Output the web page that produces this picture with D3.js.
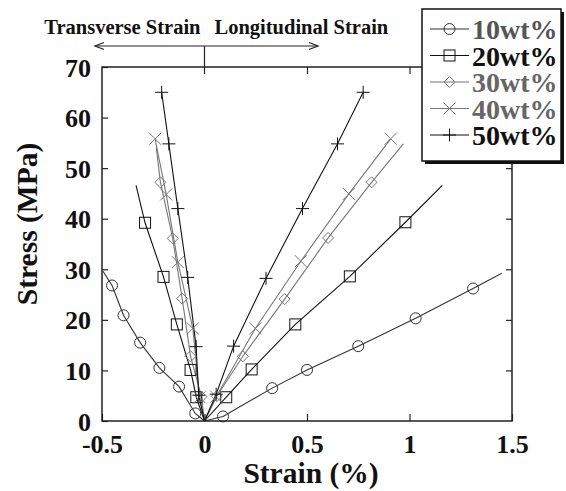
<!DOCTYPE html>
<html>
<head>
<meta charset="utf-8">
<script src="https://cdn.jsdelivr.net/npm/d3@7"></script>
<style>
  body { margin: 0; background: #fff; }
  svg { display: block; }
  text { font-family: "Liberation Serif", "Times New Roman", serif; font-weight: bold; }
</style>
</head>
<body>
<svg id="chart" width="566" height="491"></svg>
<script>
// ---- data: strain (%) vs stress (MPa) ----
const seriesNames = ["10wt%", "20wt%", "30wt%", "40wt%", "50wt%"];
const xTicks = [-0.5, 0, 0.5, 1, 1.5];
const yTicks = [0, 10, 20, 30, 40, 50, 60, 70];

// longitudinal (positive strain) curves
const long10 = [[0,0],[0.09,0.9],[0.33,6.5],[0.5,10.1],[0.75,14.8],[1.03,20.3],[1.31,26.2],[1.45,29.2]];
const long20 = [[0,0],[0.106,4.7],[0.23,10.2],[0.443,19.1],[0.709,28.6],[0.98,39.3],[1.16,46.6]];
const long30 = [[0,0],[0.06,4.9],[0.187,12.8],[0.391,24.1],[0.603,36.2],[0.815,47.2],[0.97,54.8]];
const long40 = [[0,0],[0.057,4.8],[0.248,18.3],[0.47,31.6],[0.704,44.9],[0.908,55.8]];
const long50 = [[0,0],[0.057,5.3],[0.142,14.8],[0.30,28.2],[0.478,42.0],[0.649,54.8],[0.774,65.0]];

// transverse (negative strain) curves
const trans10 = [[0,0],[-0.045,1.5],[-0.124,6.8],[-0.22,10.5],[-0.314,15.5],[-0.395,20.9],[-0.451,26.8],[-0.495,29.6]];
const trans20 = [[0,0],[-0.04,4.7],[-0.068,10.1],[-0.135,19.1],[-0.20,28.5],[-0.29,39.2],[-0.334,46.6]];
const trans30 = [[0,0],[-0.015,4.8],[-0.068,12.8],[-0.109,24.2],[-0.155,36.1],[-0.215,47.2],[-0.235,54.0]];
const trans40 = [[0,0],[-0.024,4.7],[-0.057,18.3],[-0.13,31.4],[-0.187,44.8],[-0.241,55.8]];
const trans50 = [[0,0],[-0.028,5.1],[-0.041,14.7],[-0.082,28.4],[-0.13,42.0],[-0.174,54.8],[-0.209,65.0]];

// marked measurement points
const marks10 = [[0.09,0.9],[0.33,6.5],[0.5,10.1],[0.75,14.8],[1.03,20.3],[1.31,26.2],
                 [-0.045,1.5],[-0.124,6.8],[-0.22,10.5],[-0.314,15.5],[-0.395,20.9],[-0.451,26.8]];
const marks20 = [[0.106,4.7],[0.23,10.2],[0.443,19.1],[0.709,28.6],[0.98,39.3],
                 [-0.04,4.7],[-0.068,10.1],[-0.135,19.1],[-0.20,28.5],[-0.29,39.2]];
const marks30 = [[0.06,4.9],[0.187,12.8],[0.391,24.1],[0.603,36.2],[0.815,47.2],
                 [-0.015,4.8],[-0.068,12.8],[-0.109,24.2],[-0.155,36.1],[-0.215,47.2]];
const marks40 = [[0.057,4.8],[0.248,18.3],[0.47,31.6],[0.704,44.9],[0.908,55.8],
                 [-0.024,4.7],[-0.057,18.3],[-0.13,31.4],[-0.187,44.8],[-0.241,55.8]];
const marks50 = [[0.057,5.3],[0.142,14.8],[0.30,28.2],[0.478,42.0],[0.649,54.8],[0.774,65.0],
                 [-0.028,5.1],[-0.041,14.7],[-0.082,28.4],[-0.13,42.0],[-0.174,54.8],[-0.209,65.0]];

const lineColors = ["#333", "#111", "#777", "#777", "#111"];
const textColors = ["#555", "#111", "#666", "#666", "#111"];
const symbols = ["circle", "square", "diamond", "cross", "plus"];

const series = seriesNames.map((name, i) => ({
  name,
  curves: [[long10, trans10], [long20, trans20], [long30, trans30], [long40, trans40], [long50, trans50]][i],
  marks: [marks10, marks20, marks30, marks40, marks50][i],
  color: lineColors[i],
  textColor: textColors[i],
  symbol: symbols[i]
}));

// ---- layout ----
const svg = d3.select("#chart");
const plot = { left: 102, right: 512, top: 67, bottom: 421 };

const x = d3.scaleLinear().domain([-0.5, 1.5]).range([plot.left, plot.right]);
const y = d3.scaleLinear().domain([0, 70]).range([plot.bottom, plot.top]);

// marker drawing
function drawSymbol(g, type, cx, cy, color) {
  const s = g.append("g").attr("transform", `translate(${cx},${cy})`)
    .attr("fill", "none").attr("stroke", color).attr("stroke-width", 1);
  if (type === "circle") s.append("circle").attr("r", 5.5);
  else if (type === "square") s.append("rect").attr("x", -5.5).attr("y", -5.5).attr("width", 11).attr("height", 11);
  else if (type === "diamond") s.append("path").attr("d", "M0,-5.5L5.5,0L0,5.5L-5.5,0Z");
  else if (type === "cross") s.append("path").attr("d", "M-6,-6L6,6M-6,6L6,-6");
  else if (type === "plus") s.append("path").attr("d", "M-6.5,0H6.5M0,-6.5V6.5");
}

// ---- curves ----
const line = d3.line().x(d => x(d[0])).y(d => y(d[1]));
const curveLayer = svg.append("g");
series.forEach(s => {
  s.curves.forEach(c => {
    curveLayer.append("path").datum(c).attr("d", line)
      .attr("fill", "none").attr("stroke", s.color).attr("stroke-width", 1.1);
  });
});
series.forEach(s => {
  s.marks.forEach(p => drawSymbol(curveLayer, s.symbol, x(p[0]), y(p[1]), s.color));
});

// ---- frame and axes ----
const axisColor = "#222";
const axisBottom = d3.axisBottom(x).tickValues(xTicks).tickSizeInner(-7).tickSizeOuter(0)
  .tickFormat(d => String(d));
const gx = svg.append("g").attr("transform", `translate(0,${plot.bottom})`).call(axisBottom);
gx.select(".domain").remove();
gx.selectAll(".tick line").attr("stroke", axisColor).attr("stroke-width", 1.2);
gx.selectAll(".tick text").attr("y", 14).attr("dy", "0.71em")
  .attr("font-size", 26).attr("fill", "#111")
  .attr("font-family", "Liberation Serif, serif").attr("font-weight", "bold");

const axisTop = d3.axisTop(x).tickValues([0.5, 1]).tickSizeInner(-7).tickSizeOuter(0).tickFormat("");
const gt = svg.append("g").attr("transform", `translate(0,${plot.top})`).call(axisTop);
gt.select(".domain").remove();
gt.selectAll(".tick line").attr("stroke", axisColor).attr("stroke-width", 1.2);

const axisLeft = d3.axisLeft(y).tickValues(yTicks).tickSizeInner(-6).tickSizeOuter(0);
const gy = svg.append("g").attr("transform", `translate(${plot.left},0)`).call(axisLeft);
gy.select(".domain").remove();
gy.selectAll(".tick line").attr("stroke", axisColor).attr("stroke-width", 1.2);
gy.selectAll(".tick text").attr("x", -11).attr("dy", "0.35em")
  .attr("font-size", 26).attr("fill", "#111")
  .attr("font-family", "Liberation Serif, serif").attr("font-weight", "bold");

const axisRight = d3.axisRight(y).tickValues(yTicks.slice(1, -1)).tickSizeInner(-6).tickSizeOuter(0).tickFormat("");
const gr = svg.append("g").attr("transform", `translate(${plot.right},0)`).call(axisRight);
gr.select(".domain").remove();
gr.selectAll(".tick line").attr("stroke", axisColor).attr("stroke-width", 1.2);

svg.append("rect")
  .attr("x", plot.left).attr("y", plot.top)
  .attr("width", plot.right - plot.left).attr("height", plot.bottom - plot.top)
  .attr("fill", "none").attr("stroke", axisColor).attr("stroke-width", 1.5);

// axis titles
svg.append("text").attr("x", (plot.left + plot.right) / 2 + 4).attr("y", 483)
  .attr("text-anchor", "middle").attr("font-size", 29.5).attr("fill", "#111").text("Strain (%)");
svg.append("text").attr("transform", `translate(37,${(plot.top + plot.bottom) / 2 - 20}) rotate(-90)`)
  .attr("text-anchor", "middle").attr("font-size", 29.5).attr("fill", "#111").text("Stress (MPa)");

// ---- direction annotation above the frame ----
const arrowY = 46;
const ann = svg.append("g").attr("stroke", "#222").attr("stroke-width", 1.2).attr("fill", "none");
ann.append("line").attr("x1", 95).attr("x2", 318).attr("y1", arrowY).attr("y2", arrowY);
ann.append("line").attr("x1", x(0)).attr("x2", x(0)).attr("y1", arrowY).attr("y2", plot.top + 7);
ann.append("path").attr("d", `M${95 + 9},${arrowY - 3.5}L95,${arrowY}L${95 + 9},${arrowY + 3.5}`);
ann.append("path").attr("d", `M${318 - 9},${arrowY - 3.5}L318,${arrowY}L${318 - 9},${arrowY + 3.5}`);
svg.append("text").attr("x", x(0) - 4).attr("y", 34).attr("text-anchor", "end")
  .attr("font-size", 20.5).attr("fill", "#111").text("Transverse Strain");
svg.append("text").attr("x", x(0) + 10).attr("y", 34).attr("text-anchor", "start")
  .attr("font-size", 20.5).attr("fill", "#111").text("Longitudinal Strain");

// ---- legend ----
const lg = svg.append("g");
const box = { x: 422, y: 9, w: 139, h: 152 };
lg.append("rect").attr("x", box.x + 3).attr("y", box.y + 3).attr("width", box.w).attr("height", box.h).attr("fill", "#111");
lg.append("rect").attr("x", box.x).attr("y", box.y).attr("width", box.w).attr("height", box.h)
  .attr("fill", "#fff").attr("stroke", "#111").attr("stroke-width", 1.5);
series.forEach((s, i) => {
  const ry = 29 + i * 26.5;
  lg.append("line").attr("x1", 430).attr("x2", 469).attr("y1", ry).attr("y2", ry)
    .attr("stroke", s.color).attr("stroke-width", 1.2);
  drawSymbol(lg, s.symbol, 449.5, ry, s.color);
  lg.append("text").attr("x", 472).attr("y", ry + 10).attr("font-size", 28)
    .attr("fill", s.textColor).text(s.name);
});
</script>
</body>
</html>
